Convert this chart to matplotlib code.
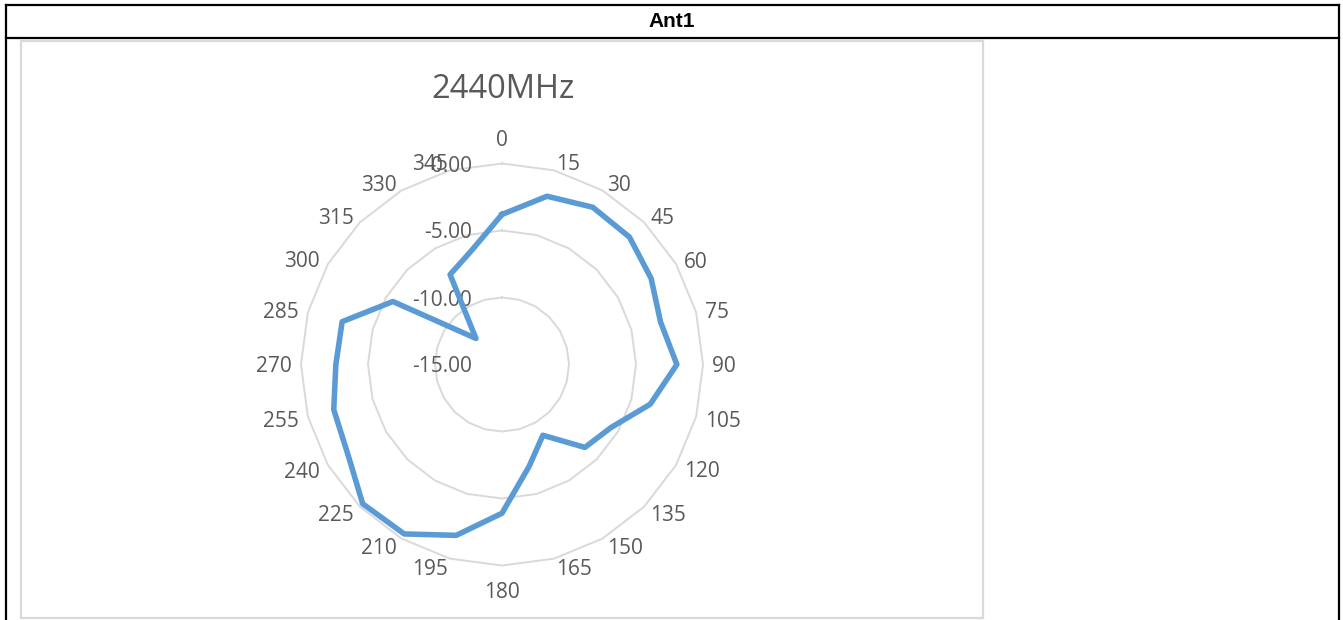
import numpy as np
import matplotlib
matplotlib.use("Agg")
import matplotlib.pyplot as plt
from matplotlib.lines import Line2D
from matplotlib.patches import Rectangle
from matplotlib.transforms import offset_copy

# ---- data ----
angles_deg = [0, 15, 30, 45, 60, 75, 90, 105, 120, 135, 150, 165,
              180, 195, 210, 225, 240, 255, 270, 285, 300, 315, 330, 345]
gain_db = [-3.8, -2.0, -1.45, -1.55, -2.15, -2.75, -1.95, -3.55, -5.6, -6.25, -8.9, -7.15,
           -3.9, -1.8, -0.4, -0.3, -1.7, -2.0, -2.6, -2.65, -5.6, -12.25, -7.25, -6.2]
ring_values = [-15.0, -10.0, -5.0, 0.0]
ring_labels = ["-15.00", "-10.00", "-5.00", "0.00"]
angle_labels = [str(a) for a in angles_deg]
title = "2440MHz"
header = "Ant1"

W, H = 1343, 620
fig = plt.figure(figsize=(W / 100, H / 100), dpi=100)
fig.patch.set_facecolor("white")

def fx(x):
    return x / W

def fy(y):
    return 1 - y / H

# table borders
for (x0, y0, x1, y1) in [(6, 5, 1339, 5), (6, 37.5, 1339, 37.5),
                         (6, 5, 6, 620), (1339, 5, 1339, 620)]:
    fig.add_artist(Line2D([fx(x0), fx(x1)], [fy(y0), fy(y1)], color="black",
                          lw=1.6, transform=fig.transFigure, solid_capstyle="projecting"))

fig.text(fx(672), fy(19.5), header, ha="center", va="center_baseline", fontsize=15,
         fontweight="bold", family="Liberation Sans", color="black")

# chart area box
fig.add_artist(Rectangle((fx(21), fy(618)), fx(983) - fx(21), fy(41) - fy(618),
                         transform=fig.transFigure, fill=False, ec="#D9D9D9", lw=1.6))

fig.text(fx(503), fy(97.7), title, ha="center", va="baseline", fontsize=23.5,
         family="Open Sans", color="#595959")

# radar
cx, cy, R = 502, 364.5, 201
ax = fig.add_axes([fx(cx - R), fy(cy + R), 2 * R / W, 2 * R / H], projection="polar")
ax.set_theta_zero_location("N")
ax.set_theta_direction(-1)
ax.set_ylim(ring_values[0], ring_values[-1])
ax.set_axis_off()

theta = np.deg2rad(angles_deg)
theta_c = np.append(theta, theta[0])
for v in ring_values[1:]:
    ax.plot(theta_c, np.full(theta_c.shape, v), color="#D9D9D9", lw=1.4, clip_on=False, zorder=1)

vals = np.append(np.array(gain_db), gain_db[0])
ax.plot(theta_c, vals, color="#5B9BD5", lw=4.0, solid_joinstyle="round", clip_on=False, zorder=3)

# category labels: anchored just outside the outer ring, aligned away from the centre
span = ring_values[-1] - ring_values[0]
for a, t, lab in zip(angles_deg, theta, angle_labels):
    if a % 180 == 0:
        d, ha = 226, "center"
    else:
        d, ha = 210, ("left" if a < 180 else "right")
    ax.text(t, ring_values[0] + d / R * span, lab, ha=ha, va="center_baseline",
            fontsize=15, family="Open Sans", color="#595959", clip_on=False)

tr = offset_copy(ax.transData, fig=fig, x=-30, y=0, units="dots")
for v, lab in zip(ring_values, ring_labels):
    ax.text(0, v, lab, ha="right", va="center_baseline", fontsize=15, family="Open Sans",
            color="#595959", transform=tr, clip_on=False, zorder=2)

fig.savefig("out.png", dpi=100, facecolor="white")
